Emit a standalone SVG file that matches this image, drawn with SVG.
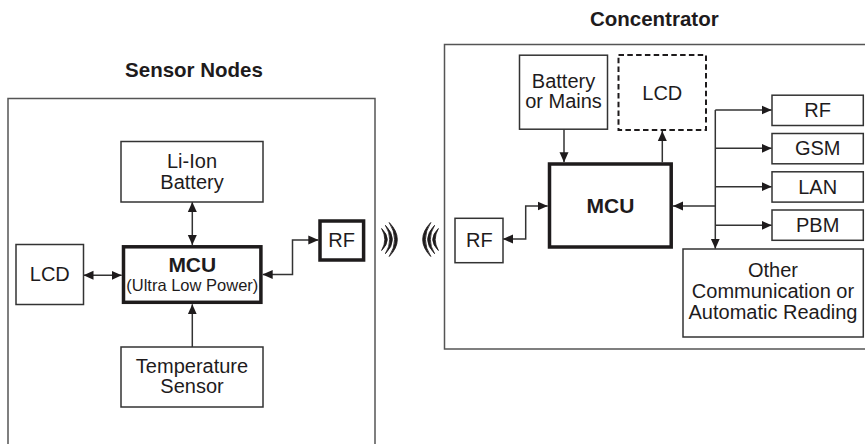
<svg xmlns="http://www.w3.org/2000/svg" width="865" height="444" viewBox="0 0 865 444">
<style>
  text { font-family: "Liberation Sans", Arial, sans-serif; fill: #1e1b1c; text-anchor: middle; }
  .title { font-size: 20.5px; font-weight: bold; }
  .lbl { font-size: 20px; }
  .mcu { font-size: 21px; font-weight: bold; }
  .sub { font-size: 16.5px; }
  .frame { fill: none; stroke: #555; stroke-width: 1.5; }
  .box { fill: #fff; stroke: #333; stroke-width: 1.5; }
  .thick { fill: #fff; stroke: #1e1b1c; stroke-width: 3.5; }
  .dash { fill: #fff; stroke: #1e1b1c; stroke-width: 2; stroke-dasharray: 5.5 3.3; }
  .conn { fill: none; stroke: #333; stroke-width: 1.5; }
  .wave { fill: #1e1b1c; stroke: #1e1b1c; stroke-width: 0.8; stroke-linejoin: round; }
</style>
<defs>
  <marker id="arr" viewBox="0 0 10 10" refX="10" refY="5" markerUnits="userSpaceOnUse" markerWidth="10" markerHeight="10" orient="auto-start-reverse">
    <path d="M0,0.5 L10,5 L0,9.5 Z" fill="#1e1b1c"/>
  </marker>
</defs>
<rect width="865" height="444" fill="#fff"/>

<g id="sensor-nodes">
  <text class="title" x="194" y="76.7">Sensor Nodes</text>
  <rect class="frame" x="8" y="98.5" width="367" height="360"/>
</g>
<g id="concentrator">
  <text class="title" x="654.3" y="26">Concentrator</text>
  <rect class="frame" x="444.5" y="44.5" width="430" height="304.5"/>
</g>

<g id="connectors">
  <line class="conn" x1="192.3" y1="202" x2="192.3" y2="245" marker-start="url(#arr)" marker-end="url(#arr)"/>
  <line class="conn" x1="83.5" y1="275.3" x2="121.7" y2="275.3" marker-start="url(#arr)" marker-end="url(#arr)"/>
  <line class="conn" x1="192.3" y1="347" x2="192.3" y2="304.3" marker-end="url(#arr)"/>
  <polyline class="conn" points="262.7,274.5 292.5,274.5 292.5,240 318.3,240" marker-start="url(#arr)" marker-end="url(#arr)"/>

  <line class="conn" x1="564" y1="129.3" x2="564" y2="162.3" marker-end="url(#arr)"/>
  <line class="conn" x1="662.3" y1="162.3" x2="662.3" y2="131" marker-end="url(#arr)"/>
  <polyline class="conn" points="503,239 525.7,239 525.7,206 547.7,206" marker-start="url(#arr)" marker-end="url(#arr)"/>
  <line class="conn" x1="715.3" y1="110" x2="715.3" y2="248.7" marker-end="url(#arr)"/>
  <line class="conn" x1="715.3" y1="206" x2="673" y2="206" marker-end="url(#arr)"/>
  <line class="conn" x1="715.3" y1="110" x2="771.7" y2="110" marker-end="url(#arr)"/>
  <line class="conn" x1="715.3" y1="148.3" x2="771.7" y2="148.3" marker-end="url(#arr)"/>
  <line class="conn" x1="715.3" y1="186.7" x2="771.7" y2="186.7" marker-end="url(#arr)"/>
  <line class="conn" x1="715.3" y1="225.3" x2="771.7" y2="225.3" marker-end="url(#arr)"/>
</g>

<g id="s-battery">
  <rect class="box" x="121" y="141.5" width="142" height="60.5"/>
  <text class="lbl" x="192" y="168.3">Li-Ion</text>
  <text class="lbl" x="192" y="189">Battery</text>
</g>
<g id="s-lcd">
  <rect class="box" x="16" y="244.5" width="67.5" height="60"/>
  <text class="lbl" x="49.8" y="281">LCD</text>
</g>
<g id="s-mcu">
  <rect class="thick" x="123.5" y="246.8" width="137.4" height="55.5"/>
  <text class="mcu" x="192.3" y="272.3">MCU</text>
  <text class="sub" x="192.3" y="290.7">(Ultra Low Power)</text>
</g>
<g id="s-temp">
  <rect class="box" x="121" y="347" width="142" height="60"/>
  <text class="lbl" x="192" y="372.7">Temperature</text>
  <text class="lbl" x="192" y="393.3">Sensor</text>
</g>
<g id="s-rf">
  <rect class="thick" x="320" y="221" width="43.6" height="39" stroke-width="3.3"/>
  <text class="lbl" x="341.7" y="247">RF</text>
</g>

<g id="waves">
  <path class="wave" d="M381.6,228.5 Q393,239.5 381.6,250.5 Q388,239.5 381.6,228.5 Z"/>
  <path class="wave" d="M385.4,225.3 Q399.5,239.5 385.4,253.7 Q394,239.5 385.4,225.3 Z"/>
  <path class="wave" d="M389.2,222.5 Q405.5,239.5 389.2,256.5 Q400,239.5 389.2,222.5 Z"/>
  <path class="wave" d="M438.4,228.5 Q427,239.5 438.4,250.5 Q432,239.5 438.4,228.5 Z"/>
  <path class="wave" d="M434.6,225.3 Q420.5,239.5 434.6,253.7 Q426,239.5 434.6,225.3 Z"/>
  <path class="wave" d="M430.8,222.5 Q414.5,239.5 430.8,256.5 Q420,239.5 430.8,222.5 Z"/>
</g>

<g id="c-battery">
  <rect class="box" x="519.5" y="55.2" width="88" height="74"/>
  <text class="lbl" x="563.5" y="87.7">Battery</text>
  <text class="lbl" x="563.5" y="108.3">or Mains</text>
</g>
<g id="c-lcd">
  <rect class="dash" x="618.5" y="55" width="87.5" height="75"/>
  <text class="lbl" x="662.3" y="99.5">LCD</text>
</g>
<g id="c-mcu">
  <rect class="thick" x="549.5" y="164" width="121.7" height="83"/>
  <text class="mcu" x="610.5" y="212.7">MCU</text>
</g>
<g id="c-rf-in">
  <rect class="box" x="455" y="218.3" width="48" height="44.4"/>
  <text class="lbl" x="479.3" y="247">RF</text>
</g>
<g id="c-rf">
  <rect class="box" x="772" y="95.2" width="91.3" height="30.3"/>
  <text class="lbl" x="817.7" y="117">RF</text>
</g>
<g id="c-gsm">
  <rect class="box" x="772" y="133.5" width="91.3" height="30.3"/>
  <text class="lbl" x="817.7" y="155.3">GSM</text>
</g>
<g id="c-lan">
  <rect class="box" x="772" y="171.8" width="91.3" height="30.3"/>
  <text class="lbl" x="817.7" y="193.6">LAN</text>
</g>
<g id="c-pbm">
  <rect class="box" x="772" y="210" width="91.3" height="30.3"/>
  <text class="lbl" x="817.7" y="231.5">PBM</text>
</g>
<g id="c-other">
  <rect class="box" x="683" y="249" width="180.3" height="88"/>
  <text class="lbl" x="773" y="277.3">Other</text>
  <text class="lbl" x="773" y="297.7">Communication or</text>
  <text class="lbl" x="773" y="319">Automatic Reading</text>
</g>
</svg>
